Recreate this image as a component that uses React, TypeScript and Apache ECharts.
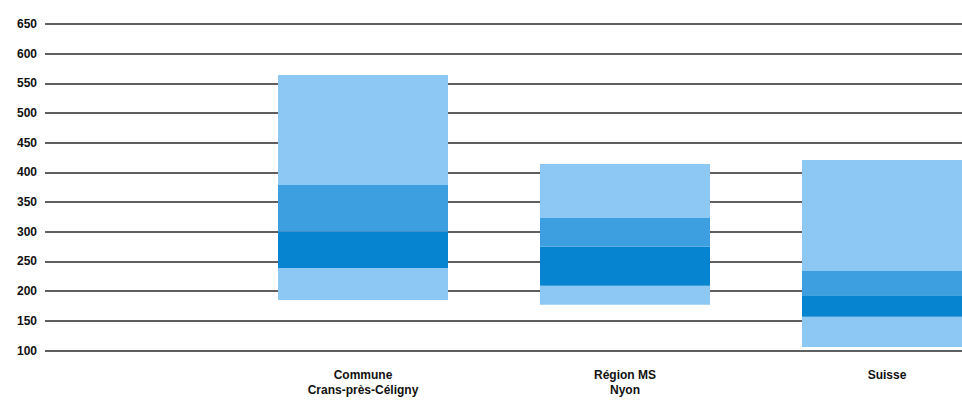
import React, { useEffect, useRef } from "react";
import * as echarts from "echarts";

const categories = ["Commune\nCrans-près-Céligny", "Région MS\nNyon", "Suisse"];
// boundaries of the coloured bands (bottom → top)
const bottomValues = [185, 177, 106];
const darkLowValues = [239, 209, 157];
const darkHighValues = [300, 275, 193];
const midHighValues = [379, 323, 234];
const topValues = [564, 414, 421];

const yMin = 100;
const yMax = 650;
const yStep = 50;

const LIGHT = "#8dc7f4";
const MID = "#3d9fe0";
const DARK = "#0784cf";

export default function App() {
  const ref = useRef<HTMLDivElement>(null);

  useEffect(() => {
    if (!ref.current) return;
    const chart = echarts.init(ref.current, undefined, { renderer: "svg" });
    const diff = (a: number[], b: number[]) => a.map((v, i) => v - b[i]);
    const mk = (name: string, data: number[], color: string) => ({
      name,
      type: "bar",
      stack: "range",
      xAxisIndex: 0,
      yAxisIndex: 0,
      barWidth: 170,
      clip: false,
      data,
      itemStyle: { color },
      emphasis: { disabled: true },
    });
    chart.setOption({
      animation: false,
      grid: [
        { left: 363, right: 75, top: 24, bottom: 55.5 },
        { left: 45, right: 0, top: 24, bottom: 55.5 },
      ],
      xAxis: [
        {
          type: "category",
          gridIndex: 0,
          data: categories,
          boundaryGap: false,
          axisLine: { show: false },
          axisTick: { show: false },
          splitLine: { show: false },
          axisLabel: {
            margin: 17,
            fontSize: 12,
            fontWeight: "bold",
            color: "#111",
            lineHeight: 15,
            fontFamily: "Liberation Sans, Arial, sans-serif",
            interval: 0,
          },
        },
        { type: "value", gridIndex: 1, show: false },
      ],
      yAxis: [
        { type: "value", gridIndex: 0, min: yMin, max: yMax, interval: yStep, show: false, splitLine: { show: false } },
        {
          type: "value",
          gridIndex: 1,
          min: yMin,
          max: yMax,
          interval: yStep,
          axisLine: { show: false },
          axisTick: { show: false },
          axisLabel: {
            margin: 8,
            fontSize: 12,
            fontWeight: "bold",
            color: "#111",
            fontFamily: "Liberation Sans, Arial, sans-serif",
          },
          splitLine: { show: true, lineStyle: { color: "#2a2a2a", width: 1.6 } },
        },
      ],
      series: [
        mk("base", bottomValues, "rgba(0,0,0,0)"),
        mk("low", diff(darkLowValues, bottomValues), LIGHT),
        mk("dark", diff(darkHighValues, darkLowValues), DARK),
        mk("mid", diff(midHighValues, darkHighValues), MID),
        mk("high", diff(topValues, midHighValues), LIGHT),
      ],
    });
    return () => chart.dispose();
  }, []);

  return (
    <div
      ref={ref}
      style={{ position: "absolute", left: 0, top: 0, width: 962, height: 406, background: "#fff" }}
    />
  );
}
